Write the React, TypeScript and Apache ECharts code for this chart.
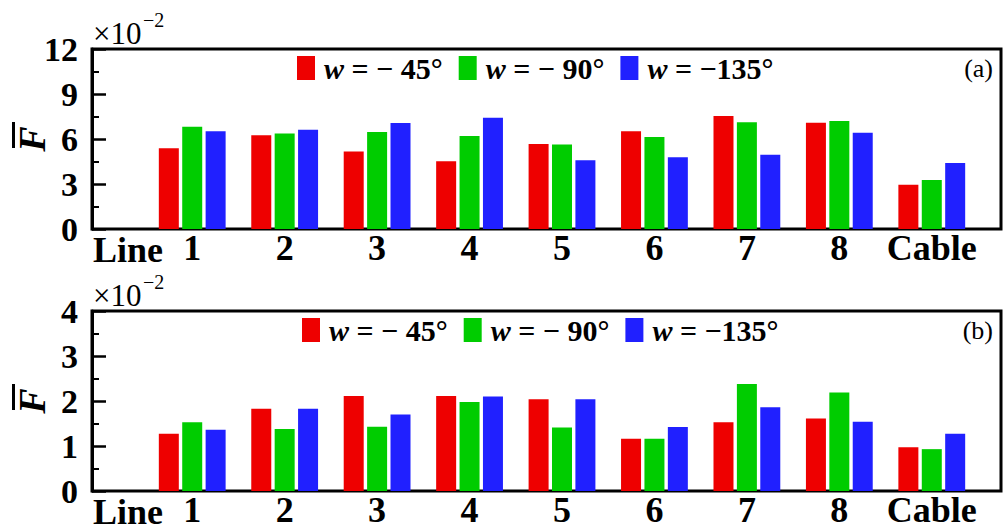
import React, { useEffect, useRef } from "react";
import * as echarts from "echarts";

const categories = ["1", "2", "3", "4", "5", "6", "7", "8", "Cable"];
const seriesNames = ["w = − 45°", "w = − 90°", "w = −135°"];
const colors = ["#ee0000", "#00cc00", "#2020ff"];

const topW45 = [5.38, 6.25, 5.16, 4.51, 5.67, 6.51, 7.53, 7.09, 2.95];
const topW90 = [6.82, 6.36, 6.47, 6.2, 5.64, 6.13, 7.11, 7.2, 3.27];
const topW135 = [6.51, 6.62, 7.07, 7.42, 4.58, 4.78, 4.95, 6.42, 4.4];

const botW45 = [1.27, 1.83, 2.11, 2.11, 2.04, 1.16, 1.53, 1.61, 0.97];
const botW90 = [1.53, 1.38, 1.43, 1.98, 1.41, 1.16, 2.38, 2.19, 0.93];
const botW135 = [1.36, 1.83, 1.7, 2.1, 2.04, 1.42, 1.86, 1.54, 1.27];

const topMax = 12;
const topInterval = 3;
const botMax = 4;
const botInterval = 1;

const SERIF = "'Liberation Serif', 'Times New Roman', serif";

export default function App() {
  const ref = useRef<HTMLDivElement>(null);

  useEffect(() => {
    if (!ref.current) return;
    const chart = echarts.init(ref.current, undefined, { renderer: "svg" });

    const panels = [
      { top: 49, data: [topW45, topW90, topW135], max: topMax, interval: topInterval, tag: "(a)", legendLeft: 297 },
      { top: 311, data: [botW45, botW90, botW135], max: botMax, interval: botInterval, tag: "(b)", legendLeft: 302 },
    ];
    const H = 180;

    const grid: any[] = [];
    const xAxis: any[] = [];
    const yAxis: any[] = [];
    const series: any[] = [];
    const legend: any[] = [];
    const graphic: any[] = [];

    panels.forEach((p, pi) => {
      const frameIdx = grid.length;
      grid.push({
        left: 92,
        right: 6,
        top: p.top,
        height: H,
        show: true,
        borderColor: "#000",
        borderWidth: 3,
        backgroundColor: "transparent",
        outerBoundsMode: "none",
      });
      xAxis.push({ gridIndex: frameIdx, type: "value", min: 0, max: 1, show: false });
      yAxis.push({
        gridIndex: frameIdx,
        type: "value",
        min: 0,
        max: p.max,
        interval: p.interval,
        name: "F",
        nameLocation: "middle",
        nameRotate: 90,
        nameGap: 41,
        nameMoveOverlap: false,
        nameTextStyle: {
          fontFamily: SERIF,
          fontStyle: "italic",
          fontWeight: "bold",
          fontSize: 38,
          color: "#000",
        },
        axisLine: { show: true, lineStyle: { color: "#000", width: 3 } },
        axisTick: { show: true, inside: true, length: 14, lineStyle: { color: "#000", width: 2.5 } },
        minorTick: { show: true, splitNumber: 2, length: 7, lineStyle: { color: "#000", width: 2 } },
        splitLine: { show: false },
        axisLabel: {
          margin: 14,
          fontFamily: SERIF,
          fontWeight: "bold",
          fontSize: 34,
          color: "#000",
        },
      });

      const barIdx = grid.length;
      grid.push({ left: 146, right: 29, top: p.top, height: H, outerBoundsMode: "none" });
      xAxis.push({
        gridIndex: barIdx,
        type: "category",
        data: categories,
        axisLine: { show: false },
        axisTick: { show: false },
        axisLabel: {
          interval: 0,
          margin: 1,
          fontFamily: SERIF,
          fontWeight: "bold",
          fontSize: 36,
          color: "#000",
        },
      });
      yAxis.push({ gridIndex: barIdx, type: "value", min: 0, max: p.max, show: false });

      p.data.forEach((d, si) => {
        series.push({
          type: "bar",
          name: seriesNames[si],
          xAxisIndex: barIdx,
          yAxisIndex: barIdx,
          data: d,
          barWidth: 20,
          barGap: "17%",
          itemStyle: { color: colors[si] },
        });
      });

      legend.push({
        left: p.legendLeft,
        top: p.top + 4,
        padding: 0,
        icon: "rect",
        itemWidth: 18,
        itemHeight: 24,
        itemGap: 16,
        data: seriesNames,
        formatter: (name: string) => "{i|w}" + name.slice(1),
        textStyle: {
          fontFamily: SERIF,
          fontWeight: "bold",
          fontSize: 30,
          color: "#000",
          padding: [0, 0, 0, 4],
          rich: {
            i: {
              fontFamily: SERIF,
              fontStyle: "italic",
              fontWeight: "bold",
              fontSize: 30,
              color: "#000",
            },
          },
        },
      });

      graphic.push({
        type: "text",
        id: "line" + pi,
        left: 93,
        top: p.top + 183,
        style: { text: "Line", font: `bold 36px ${SERIF}`, fill: "#000" },
      });
      graphic.push({
        type: "text",
        id: "x10" + pi,
        left: 93,
        top: p.top - 31,
        style: { text: "×10", font: `31px ${SERIF}`, fill: "#000" },
      });
      graphic.push({
        type: "text",
        id: "exp" + pi,
        left: 143,
        top: p.top - 39,
        style: { text: "−2", font: `20px ${SERIF}`, fill: "#000" },
      });
      graphic.push({
        type: "text",
        id: "tag" + pi,
        right: 14,
        top: p.top + 6,
        style: { text: p.tag, font: `26px ${SERIF}`, fill: "#000" },
      });
      graphic.push({
        type: "rect",
        id: "bar" + pi,
        left: 12,
        top: p.top + 73,
        shape: { x: 0, y: 0, width: 3, height: 26 },
        style: { fill: "#000" },
        z: 100,
      });
    });

    chart.setOption({
      animation: false,
      backgroundColor: "#fff",
      grid,
      xAxis,
      yAxis,
      series,
      legend,
      graphic,
    });

    return () => chart.dispose();
  }, []);

  return (
    <div
      ref={ref}
      style={{ position: "fixed", left: 0, top: 0, width: 1007, height: 527 }}
    />
  );
}
